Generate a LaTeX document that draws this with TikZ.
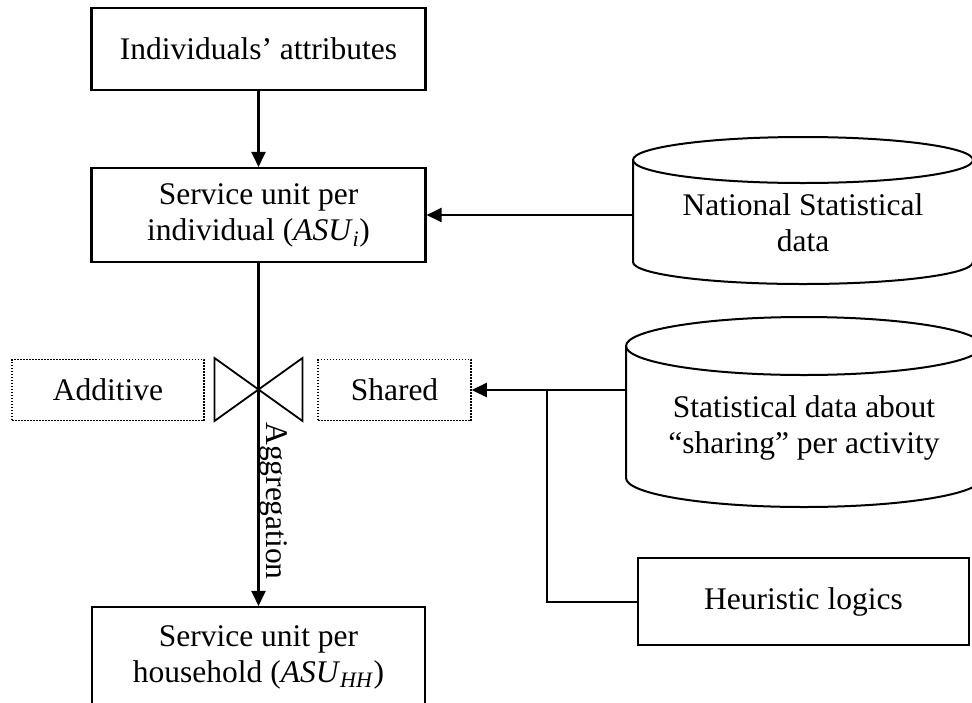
\documentclass[tikz,border=0pt]{standalone}
\usepackage{fontspec}
\setmainfont{Liberation Serif}
\usetikzlibrary{arrows.meta}
\begin{document}
\begin{tikzpicture}[x=1pt,y=1pt,
  every node/.style={font=\fontsize{31.5}{36}\selectfont, align=center, inner sep=0pt},
  box/.style={draw, line width=2.1pt, minimum width=334pt},
  dotbox/.style={draw, line width=1.5pt, dash pattern=on 1.5pt off 1.5pt},
  conn/.style={line width=2pt},
  arr/.style={line width=2.2pt, -{Triangle[length=15pt,width=14pt]}},
  cyl/.style={line width=2pt},
  tie/.style={line width=1.8pt, line join=miter},
]
\useasboundingbox (0,0) rectangle (972,-702);
% left column
\node[box, minimum height=82pt] (attr) at (258.5,-49) {Individuals’ attributes};
\node[box, minimum height=94pt] (asui) at (258.5,-215) {Service unit per\\individual (\textit{ASU}\textsubscript{\textit{i}})};
\node[box, minimum height=100pt, minimum width=333pt] (asuhh) at (258.5,-657) {Service unit per\\household (\textit{ASU}\textsubscript{\textit{HH}})};
% dotted boxes
\node[dotbox, minimum width=192pt, minimum height=61pt] (add) at (108,-390) {Additive};
\node[dotbox, minimum width=153pt, minimum height=61pt] (shared) at (394.5,-390) {Shared};
% bow tie
\coordinate (bt) at (258.5,-389.5);
\draw[tie] ([shift={(-44,31.5)}]bt) -- ([shift={(-44,-31.5)}]bt) -- ([shift={(44,31.5)}]bt) -- ([shift={(44,-31.5)}]bt) -- cycle;
% arrows left column
\draw[arr] (attr.south) -- (asui.north);
\draw[arr] (asui.south) -- (asuhh.north);
\node[rotate=-90] (agg) at (274,-501) {Aggregation};
% cylinder 1
\draw[cyl] (803,-160) ellipse [x radius=170, y radius=23];
\draw[cyl] (633,-160) -- (633,-262) arc[start angle=180, end angle=360, x radius=170, y radius=22] -- (973,-160);
\node[minimum width=340pt] (nsd) at (803,-223) {National Statistical\\data};
% cylinder 2
\draw[cyl] (804,-346) ellipse [x radius=178, y radius=29];
\draw[cyl] (626,-346) -- (626,-478) arc[start angle=180, end angle=360, x radius=178, y radius=29] -- (982,-346);
\node[minimum width=356pt] (ssd) at (804,-428) {Statistical data about\\“sharing” per activity};
% heuristic
\node[box, minimum width=331pt, minimum height=87pt] (heur) at (803.5,-601.5) {Heuristic logics};
% connectors
\draw[arr] (nsd.west |- asui.east) -- (asui.east);
\draw[arr] (ssd.west |- shared.east) -- (shared.east);
\coordinate (jn) at (547,-390);
\draw[conn] (heur.west) -| (jn);
\end{tikzpicture}
\end{document}
